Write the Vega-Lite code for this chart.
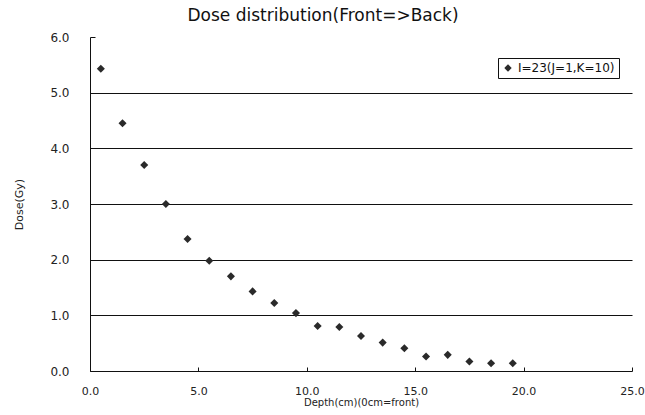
{
  "$schema": "https://vega.github.io/schema/vega-lite/v6.json",
  "width": 542,
  "height": 334,
  "autosize": {"type": "none"},
  "padding": {"left": 90, "top": 37, "right": 13, "bottom": 44},
  "background": "white",
  "title": {
    "text": "Dose distribution(Front=>Back)",
    "anchor": "middle",
    "frame": "group",
    "fontSize": 17,
    "font": "DejaVu Sans",
    "fontWeight": "normal",
    "color": "#111",
    "dx": -38,
    "offset": 6
  },
  "config": {
    "view": {"stroke": null},
    "font": "DejaVu Sans",
    "axis": {
      "labelFont": "DejaVu Sans",
      "titleFont": "DejaVu Sans",
      "labelColor": "#222",
      "titleColor": "#222",
      "domainColor": "#111",
      "tickColor": "#111",
      "gridColor": "#111",
      "labelFontSize": 12,
      "titleFontSize": 11,
      "titleFontWeight": "normal"
    }
  },
  "data": {
    "values": [
      {"depth": 0.5, "dose": 5.43, "series": "I=23(J=1,K=10)"},
      {"depth": 1.5, "dose": 4.45, "series": "I=23(J=1,K=10)"},
      {"depth": 2.5, "dose": 3.70, "series": "I=23(J=1,K=10)"},
      {"depth": 3.5, "dose": 3.00, "series": "I=23(J=1,K=10)"},
      {"depth": 4.5, "dose": 2.37, "series": "I=23(J=1,K=10)"},
      {"depth": 5.5, "dose": 1.98, "series": "I=23(J=1,K=10)"},
      {"depth": 6.5, "dose": 1.70, "series": "I=23(J=1,K=10)"},
      {"depth": 7.5, "dose": 1.43, "series": "I=23(J=1,K=10)"},
      {"depth": 8.5, "dose": 1.22, "series": "I=23(J=1,K=10)"},
      {"depth": 9.5, "dose": 1.04, "series": "I=23(J=1,K=10)"},
      {"depth": 10.5, "dose": 0.81, "series": "I=23(J=1,K=10)"},
      {"depth": 11.5, "dose": 0.79, "series": "I=23(J=1,K=10)"},
      {"depth": 12.5, "dose": 0.63, "series": "I=23(J=1,K=10)"},
      {"depth": 13.5, "dose": 0.51, "series": "I=23(J=1,K=10)"},
      {"depth": 14.5, "dose": 0.41, "series": "I=23(J=1,K=10)"},
      {"depth": 15.5, "dose": 0.26, "series": "I=23(J=1,K=10)"},
      {"depth": 16.5, "dose": 0.29, "series": "I=23(J=1,K=10)"},
      {"depth": 17.5, "dose": 0.17, "series": "I=23(J=1,K=10)"},
      {"depth": 18.5, "dose": 0.14, "series": "I=23(J=1,K=10)"},
      {"depth": 19.5, "dose": 0.14, "series": "I=23(J=1,K=10)"}
    ]
  },
  "mark": {"type": "point", "shape": "diamond", "filled": true, "size": 65, "opacity": 1},
  "encoding": {
    "x": {
      "field": "depth",
      "type": "quantitative",
      "scale": {"domain": [0, 25], "nice": false, "zero": true},
      "axis": {
        "title": "Depth(cm)(0cm=front)",
        "values": [0, 5, 10, 15, 20, 25],
        "format": ".1f",
        "grid": false,
        "tickSize": -4,
        "labelFontSize": 11,
        "labelPadding": 18,
        "titleFontSize": 10,
        "titlePadding": 1,
        "labelFlush": false
      }
    },
    "y": {
      "field": "dose",
      "type": "quantitative",
      "scale": {"domain": [0, 6], "nice": false},
      "axis": {
        "title": "Dose(Gy)",
        "values": [0, 1, 2, 3, 4, 5, 6],
        "format": ".1f",
        "grid": true,
        "gridOpacity": {"condition": {"test": "datum.value >= 6 || datum.value <= 0", "value": 0}, "value": 1},
        "tickSize": -5,
        "labelPadding": 26,
        "titlePadding": 25,
        "labelFlush": false
      }
    },
    "color": {
      "field": "series",
      "type": "nominal",
      "scale": {"range": ["#2a2a2a"]},
      "legend": {
        "title": null,
        "orient": "none",
        "legendX": 408,
        "legendY": 21,
        "strokeColor": "#111",
        "padding": 4,
        "symbolType": "diamond",
        "symbolSize": 55,
        "labelFontSize": 12,
        "labelFont": "DejaVu Sans",
        "labelColor": "#111",
        "fillColor": "white"
      }
    }
  }
}
